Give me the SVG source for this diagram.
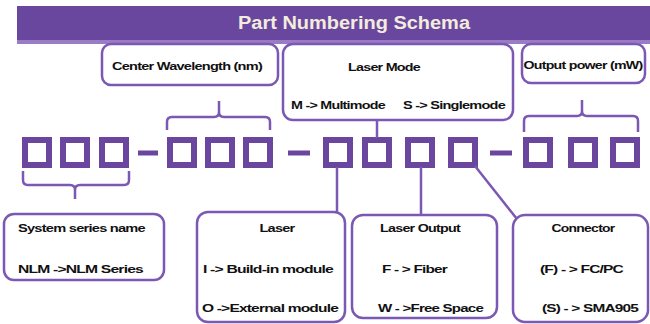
<svg xmlns="http://www.w3.org/2000/svg" width="650" height="324" viewBox="0 0 650 324">
<style>
.box{fill:#fff;stroke:#7b58b4;stroke-width:2.5}
.sq{fill:#fff;stroke:#6b469f;stroke-width:6}
.ln{fill:none;stroke:#7b58b4;stroke-width:2.5}
.dash{stroke:#6b469f;stroke-width:5}
.t{font-family:"Liberation Sans",Arial,sans-serif;font-size:11.5px;font-weight:bold;fill:#111;letter-spacing:-0.6px}
.title{font-family:"Liberation Sans",Arial,sans-serif;font-size:18px;font-weight:bold;fill:#f2ecdc}
</style>
<rect width="650" height="324" fill="#fff"/>
<g id="title">
<rect x="17" y="6" width="633" height="35" fill="#6a479e"/>
<rect x="17" y="40" width="633" height="4" fill="#9a7cc6"/>
<text class="title" x="354" y="29" text-anchor="middle" textLength="232" lengthAdjust="spacingAndGlyphs">Part Numbering Schema</text>
</g>
<g id="center-wavelength">
<rect class="box" x="102" y="44" width="176" height="41" rx="9"/>
<text class="t" x="187" y="70" text-anchor="middle" textLength="150" lengthAdjust="spacingAndGlyphs">Center Wavelength (nm)</text>
</g>
<g id="laser-mode">
<rect class="box" x="283" y="44" width="230" height="76" rx="10"/>
<text class="t" x="384" y="71" text-anchor="middle" textLength="72" lengthAdjust="spacingAndGlyphs">Laser Mode</text>
<text class="t" x="291" y="109" textLength="94" lengthAdjust="spacingAndGlyphs">M -&gt; Multimode</text>
<text class="t" x="403" y="109" textLength="102" lengthAdjust="spacingAndGlyphs">S -&gt; Singlemode</text>
</g>
<g id="output-power">
<rect class="box" x="522" y="44" width="123" height="39" rx="9"/>
<text class="t" x="583" y="69" text-anchor="middle" textLength="119" lengthAdjust="spacingAndGlyphs">Output power (mW)</text>
</g>
<g id="squares">
<rect class="sq" x="25" y="140" width="24" height="25"/>
<rect class="sq" x="63" y="140" width="24" height="25"/>
<rect class="sq" x="102" y="140" width="24" height="25"/>
<line class="dash" x1="138" y1="153" x2="158" y2="153"/>
<rect class="sq" x="170" y="140" width="24" height="25"/>
<rect class="sq" x="208" y="140" width="24" height="25"/>
<rect class="sq" x="246" y="140" width="24" height="25"/>
<line class="dash" x1="288" y1="153" x2="310" y2="153"/>
<rect class="sq" x="326" y="140" width="24" height="25"/>
<rect class="sq" x="365" y="140" width="24" height="25"/>
<rect class="sq" x="408" y="140" width="24" height="25"/>
<rect class="sq" x="451" y="140" width="24" height="25"/>
<line class="dash" x1="490" y1="153" x2="512" y2="153"/>
<rect class="sq" x="526" y="140" width="24" height="25"/>
<rect class="sq" x="571" y="140" width="24" height="25"/>
<rect class="sq" x="613" y="140" width="24" height="25"/>
</g>
<g id="connectors">
<path class="ln" d="M167,130 V122 Q167,117 172,117 H214 Q219,117 219,112 V101 M219,112 Q219,117 224,117 H265 Q270,117 270,122 V130"/>
<path class="ln" d="M524,132 V121 Q524,116 529,116 H577 Q582,116 582,111 V100 M582,111 Q582,116 587,116 H633 Q638,116 638,121 V132"/>
<path class="ln" d="M23,171 V180 Q23,185 28,185 H70 Q75,185 75,190 V199 M75,190 Q75,185 80,185 H124 Q129,185 129,180 V171"/>
<line class="ln" x1="377" y1="120" x2="377" y2="138"/>
<line class="ln" x1="337" y1="167" x2="337" y2="212"/>
<line class="ln" x1="421" y1="167" x2="421" y2="215"/>
<line class="ln" x1="475" y1="166" x2="517" y2="219"/>
</g>
<g id="system-series">
<rect class="box" x="4" y="214" width="160" height="66" rx="10"/>
<text class="t" x="18" y="232" textLength="127" lengthAdjust="spacingAndGlyphs">System series name</text>
<text class="t" x="18" y="273" textLength="125" lengthAdjust="spacingAndGlyphs">NLM -&gt;NLM Series</text>
</g>
<g id="laser">
<rect class="box" x="197" y="212" width="148" height="110" rx="11"/>
<text class="t" x="277" y="232" text-anchor="middle" textLength="35" lengthAdjust="spacingAndGlyphs">Laser</text>
<text class="t" x="203" y="273" textLength="130" lengthAdjust="spacingAndGlyphs">I -&gt; Build-in module</text>
<text class="t" x="202" y="312" textLength="136" lengthAdjust="spacingAndGlyphs">O -&gt;External module</text>
</g>
<g id="laser-output">
<rect class="box" x="352" y="215" width="145" height="103" rx="11"/>
<text class="t" x="380" y="232" textLength="80" lengthAdjust="spacingAndGlyphs">Laser Output</text>
<text class="t" x="382" y="273" textLength="65" lengthAdjust="spacingAndGlyphs">F - &gt; Fiber</text>
<text class="t" x="378" y="312" textLength="105" lengthAdjust="spacingAndGlyphs">W - &gt;Free Space</text>
</g>
<g id="connector">
<rect class="box" x="513" y="215" width="135" height="107" rx="12"/>
<text class="t" x="583" y="232" text-anchor="middle" textLength="63" lengthAdjust="spacingAndGlyphs">Connector</text>
<text class="t" x="540" y="273" textLength="83" lengthAdjust="spacingAndGlyphs">(F) - &gt; FC/PC</text>
<text class="t" x="542" y="312" textLength="96" lengthAdjust="spacingAndGlyphs">(S) - &gt; SMA905</text>
</g>
</svg>
